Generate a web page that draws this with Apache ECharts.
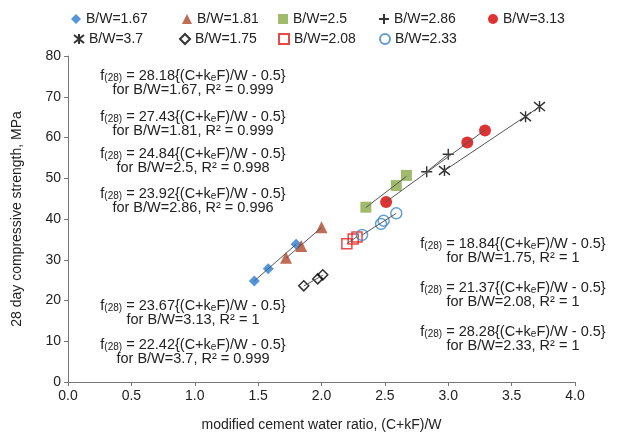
<!DOCTYPE html>
<html>
<head>
<meta charset="utf-8">
<script src="https://cdn.jsdelivr.net/npm/echarts@6/dist/echarts.min.js"></script>
<style>
  html, body { margin: 0; padding: 0; background: #fff; }
  #chart { width: 623px; height: 438px; }
</style>
</head>
<body>
<div id="chart"></div>
<script>
// measured points: [ratio, strength]
const bw167 = [[1.47, 24.8], [1.58, 27.8], [1.80, 33.8]]
const bw181 = [[1.72, 30.5], [1.84, 33.4], [2.00, 38.0]]
const bw25 = [[2.35, 42.9], [2.59, 48.2], [2.67, 50.7]]
const bw286 = [[2.83, 51.6], [3.00, 55.9]]
const bw313 = [[2.51, 44.2], [3.15, 58.8], [3.29, 61.7]]
const bw37 = [[2.97, 51.9], [3.61, 65.1], [3.72, 67.6]]
const bw175 = [[1.86, 23.6], [1.97, 25.3], [2.01, 26.3]]
const bw208 = [[2.20, 33.9], [2.25, 35.1], [2.28, 35.6]]
const bw233 = [[2.32, 36.1], [2.47, 38.8], [2.49, 39.6], [2.59, 41.4]]

const seriesNames = ['B/W=1.67', 'B/W=1.81', 'B/W=2.5', 'B/W=2.86', 'B/W=3.13',
  'B/W=3.7', 'B/W=1.75', 'B/W=2.08', 'B/W=2.33']

const coefs = ['28.18', '27.43', '24.84', '23.92', '23.67', '22.42', '18.84', '21.37', '28.28']
const fitLabels = ['1.67, R² = 0.999', '1.81, R² = 0.999', '2.5, R² = 0.998', '2.86, R² = 0.996',
  '3.13, R² = 1', '3.7, R² = 0.999', '1.75, R² = 1', '2.08, R² = 1', '2.33, R² = 1']

const FONT = '"Liberation Sans", Arial, sans-serif'

const plusPath = 'path://M0,5L10,5M5,0L5,10'
const starPath = 'path://M0,1L10,9M10,1L0,9M5,0L5,10'

const styles = [
  { symbol: 'diamond', symbolSize: 11, itemStyle: { color: '#2a7bd0' } },
  { symbol: 'triangle', symbolSize: 12, itemStyle: { color: '#b0472a' } },
  { symbol: 'rect', symbolSize: 11, itemStyle: { color: '#8aaa48' } },
  { symbol: plusPath, symbolSize: 11, itemStyle: { color: '#000', borderColor: '#000', borderWidth: 1.4 } },
  { symbol: 'circle', symbolSize: 12, itemStyle: { color: '#d40000' } },
  { symbol: starPath, symbolSize: 11, itemStyle: { color: '#000', borderColor: '#000', borderWidth: 1.4 } },
  { symbol: 'diamond', symbolSize: 10, itemStyle: { color: 'rgba(0,0,0,0)', borderColor: '#000', borderWidth: 1.5 } },
  { symbol: 'rect', symbolSize: 10, itemStyle: { color: 'rgba(0,0,0,0)', borderColor: '#e51a1a', borderWidth: 1.5 } },
  { symbol: 'circle', symbolSize: 11, itemStyle: { color: 'rgba(0,0,0,0)', borderColor: '#3d85c6', borderWidth: 1.5 } }
]

const allData = [bw167, bw181, bw25, bw286, bw313, bw37, bw175, bw208, bw233]

// least squares line between min and max x
function fit(pts) {
  const n = pts.length
  let sx = 0, sy = 0, sxx = 0, sxy = 0
  pts.forEach(p => { sx += p[0]; sy += p[1]; sxx += p[0] * p[0]; sxy += p[0] * p[1] })
  const b = (n * sxy - sx * sy) / (n * sxx - sx * sx)
  const a = (sy - b * sx) / n
  const xs = pts.map(p => p[0])
  const x0 = Math.min(...xs), x1 = Math.max(...xs)
  return [[x0, a + b * x0], [x1, a + b * x1]]
}

const chart = echarts.init(document.getElementById('chart'))

const scatterSeries = allData.map((d, i) => ({
  name: seriesNames[i],
  type: 'scatter',
  data: d,
  symbol: styles[i].symbol,
  symbolSize: styles[i].symbolSize,
  itemStyle: styles[i].itemStyle,
  z: 3
}))

const lineSeries = allData.map(d => ({
  type: 'line',
  data: fit(d),
  showSymbol: false,
  silent: true,
  lineStyle: { color: '#555', width: 1 },
  z: 4
}))

// legend placement: two rows
const legendPos = [[66, 7], [177, 7], [273, 7], [373, 7], [483, 7],
  [68, 27], [174, 27], [273, 27], [374, 27]]

const legends = seriesNames.map((n, i) => ({
  data: [n],
  left: legendPos[i][0],
  top: legendPos[i][1],
  itemWidth: 10,
  itemHeight: 10,
  selectedMode: false,
  textStyle: { fontFamily: FONT, fontSize: 14, color: '#222' }
}))

// equation text blocks [centerX, centerY]
const notePos = [[193, 83], [193, 124], [193, 161], [193, 201],
  [193, 313], [193, 352], [513, 251], [513, 295], [513, 339]]

const notes = coefs.map((c, i) => ({
  type: 'text',
  x: notePos[i][0],
  y: notePos[i][1],
  silent: true,
  style: {
    text: 'f{sub|(28)} = ' + c + '{(C+k{sub|e}F)/W - 0.5}\nfor B/W=' + fitLabels[i],
    align: 'center',
    verticalAlign: 'middle',
    fontFamily: FONT,
    fontSize: 14.5,
    lineHeight: 14,
    fill: '#222',
    rich: {
      sub: { fontSize: 10, fontFamily: FONT, verticalAlign: 'bottom', lineHeight: 12, fill: '#222' }
    }
  }
}))

chart.setOption({
  animation: false,
  backgroundColor: '#fff',
  legend: legends,
  grid: { left: 68, right: 48, top: 56, bottom: 56 },
  xAxis: {
    type: 'value',
    min: 0,
    max: 4,
    interval: 0.5,
    name: 'modified cement water ratio, (C+kF)/W',
    nameLocation: 'middle',
    nameGap: 36,
    nameTextStyle: { fontFamily: FONT, fontSize: 14, color: '#222' },
    axisLine: { lineStyle: { color: '#777' } },
    axisTick: { show: true, length: 4, lineStyle: { color: '#777' } },
    axisLabel: { fontFamily: FONT, fontSize: 14, color: '#222', margin: 7, formatter: v => v.toFixed(1) },
    splitLine: { show: false }
  },
  yAxis: {
    type: 'value',
    min: 0,
    max: 80,
    interval: 10,
    name: '28 day compressive strength, MPa',
    nameLocation: 'middle',
    nameGap: 44,
    nameTextStyle: { fontFamily: FONT, fontSize: 14, color: '#222' },
    axisLine: { show: true, lineStyle: { color: '#777' } },
    axisTick: { show: true, length: 4, lineStyle: { color: '#777' } },
    axisLabel: { fontFamily: FONT, fontSize: 14, color: '#222', margin: 7 },
    splitLine: { show: false }
  },
  graphic: notes,
  series: scatterSeries.concat(lineSeries)
})
</script>
</body>
</html>
